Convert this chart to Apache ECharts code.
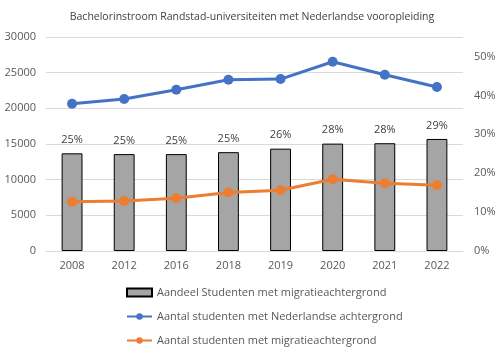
<!DOCTYPE html>
<html>
<head>
<meta charset="utf-8">
<script src="https://cdn.jsdelivr.net/npm/echarts@6/dist/echarts.min.js"></script>
<style>
  html, body { margin: 0; padding: 0; background: #fff; }
  #main { width: 504px; height: 354px; }
</style>
</head>
<body>
<div id="main"></div>
<script>
// jaren en reeksen
const jaren = ['2008', '2012', '2016', '2018', '2019', '2020', '2021', '2022'];
const aandeelMigratie = [25.1, 24.9, 24.9, 25.4, 26.3, 27.6, 27.7, 28.8];
const aantalNederlands = [20640, 21300, 22600, 24000, 24100, 26530, 24710, 22980];
const aantalMigratie = [6920, 7020, 7400, 8190, 8520, 10070, 9500, 9220];

const font = 'Open Sans';
const chart = echarts.init(document.getElementById('main'));
chart.setOption({
  animation: false,
  textStyle: { fontFamily: font },
  title: {
    text: 'Bachelorinstroom Randstad-universiteiten met Nederlandse vooropleiding',
    left: 'center',
    top: 7,
    textStyle: { fontSize: 10.5, fontWeight: 'normal', color: '#404040', fontFamily: font }
  },
  grid: { left: 46, right: 41, top: 37, bottom: 103 },
  legend: {
    orient: 'vertical',
    left: 121,
    top: 282,
    height: 90,
    itemWidth: 25,
    itemHeight: 8,
    itemGap: 13,
    textStyle: { fontSize: 11, color: '#595959', fontFamily: font },
    data: [
      { name: 'Aandeel Studenten met migratieachtergrond', icon: 'rect' },
      { name: 'Aantal studenten met Nederlandse achtergrond' },
      { name: 'Aantal studenten met migratieachtergrond' }
    ]
  },
  xAxis: {
    type: 'category',
    data: jaren,
    axisLine: { lineStyle: { color: '#d9d9d9' } },
    axisTick: { show: false },
    axisLabel: { color: '#595959', fontSize: 11, margin: 9 }
  },
  yAxis: [
    {
      type: 'value',
      min: 0,
      max: 30000,
      interval: 5000,
      axisLine: { show: false },
      axisTick: { show: false },
      axisLabel: { color: '#595959', fontSize: 11, margin: 10, formatter: v => String(v) },
      splitLine: { lineStyle: { color: '#d9d9d9' } }
    },
    {
      type: 'value',
      min: 0,
      max: 55,
      interval: 10,
      axisLine: { show: false },
      axisTick: { show: false },
      axisLabel: { color: '#595959', fontSize: 11, margin: 11, formatter: '{value}%', showMaxLabel: false },
      splitLine: { show: false }
    }
  ],
  series: [
    {
      name: 'Aandeel Studenten met migratieachtergrond',
      type: 'bar',
      yAxisIndex: 1,
      data: aandeelMigratie,
      barWidth: '40%',
      itemStyle: { color: '#a5a5a5', borderColor: '#000', borderWidth: 1 },
      label: {
        show: true,
        position: 'top',
        distance: 8,
        color: '#404040',
        fontSize: 11,
        formatter: p => Math.round(p.value) + '%'
      }
    },
    {
      name: 'Aantal studenten met Nederlandse achtergrond',
      type: 'line',
      data: aantalNederlands,
      symbol: 'circle',
      symbolSize: 10,
      lineStyle: { width: 3, color: '#4472c4' },
      itemStyle: { color: '#4472c4' }
    },
    {
      name: 'Aantal studenten met migratieachtergrond',
      type: 'line',
      data: aantalMigratie,
      symbol: 'circle',
      symbolSize: 10,
      lineStyle: { width: 3, color: '#ed7d31' },
      itemStyle: { color: '#ed7d31' }
    }
  ]
});
</script>
</body>
</html>
